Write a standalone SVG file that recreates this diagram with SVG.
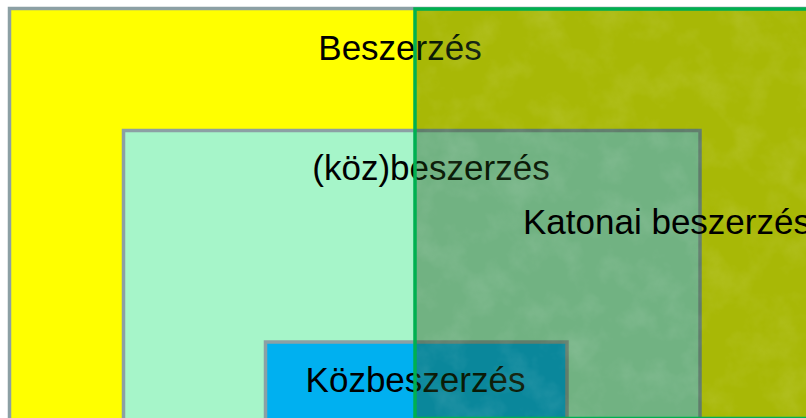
<svg xmlns="http://www.w3.org/2000/svg" width="806" height="418" viewBox="0 0 806 418">
  <style>
    .box { stroke: #8ca0a4; stroke-width: 3.5; }
    .lbl { font-family: "Liberation Sans", Arial, sans-serif; font-size: 35px; fill: #000; }
  </style>
  <defs>
    <filter id="tex" x="0" y="0" width="100%" height="100%">
      <feTurbulence type="fractalNoise" baseFrequency="0.03" numOctaves="4" seed="7" result="n"/>
      <feColorMatrix in="n" type="matrix" values="0 0 0 0 1  0 0 0 0 1  0 0 0 0 1  1.6 0 0 0 -0.7" result="w"/>
      <feComposite in="w" in2="SourceGraphic" operator="in"/>
    </filter>
  </defs>
  <rect width="806" height="418" fill="#ffffff"/>
  <g id="beszerzes">
    <rect class="box" x="9.5" y="8.5" width="820" height="430" fill="#ffff00"/>
    <text class="lbl" x="400" y="60" text-anchor="middle">Beszerzés</text>
  </g>
  <g id="kozbeszerzes-zarojeles">
    <rect class="box" x="123.5" y="130.5" width="576.5" height="310" fill="#a6f5c9"/>
    <text class="lbl" x="431" y="180" text-anchor="middle">(köz)beszerzés</text>
  </g>
  <g id="kozbeszerzes">
    <rect class="box" x="265.5" y="342" width="301.5" height="100" fill="#00b0f0"/>
    <text class="lbl" x="415.5" y="392" text-anchor="middle">Közbeszerzés</text>
  </g>
  <g id="katonai-beszerzes">
    <rect x="415" y="9" width="420" height="409.5" fill="#1a4410" fill-opacity="0.38"/>
    <rect x="415" y="9" width="420" height="409.5" fill="#ffffff" opacity="0.14" filter="url(#tex)"/>
    <rect x="415" y="9" width="420" height="409.5" fill="none" stroke="#00b050" stroke-width="3.5"/>
    <text class="lbl" x="523" y="234">Katonai beszerzés</text>
  </g>
</svg>
